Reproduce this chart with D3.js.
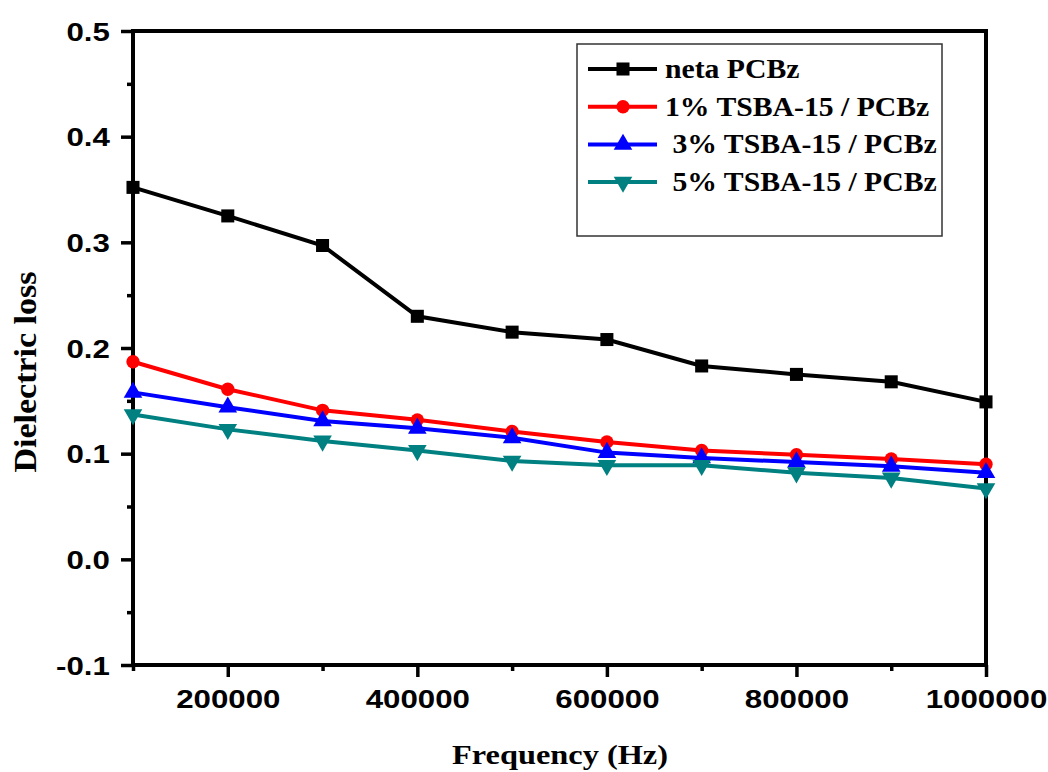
<!DOCTYPE html>
<html>
<head>
<meta charset="utf-8">
<script src="https://cdn.jsdelivr.net/npm/d3@7"></script>
<style>
  html, body { margin: 0; padding: 0; background: #fff; }
  svg { display: block; }
  .tick-label { font-family: "Liberation Sans", Arial, sans-serif; font-weight: bold; }
  .serif { font-family: "Liberation Serif", "Times New Roman", serif; font-weight: bold; }
</style>
</head>
<body>
<svg id="chart" width="1048" height="772"></svg>
<script>
// frequency (Hz)
const frequencies = [100000, 200000, 300000, 400000, 500000, 600000, 700000, 800000, 900000, 1000000];

const netaPCBz = [0.352, 0.325, 0.297, 0.230, 0.215, 0.208, 0.183, 0.175, 0.168, 0.149];
const tsba1 = [0.187, 0.161, 0.141, 0.132, 0.121, 0.111, 0.103, 0.099, 0.095, 0.090];
const tsba3 = [0.158, 0.144, 0.131, 0.124, 0.115, 0.101, 0.096, 0.092, 0.088, 0.082];
const tsba5 = [0.137, 0.123, 0.112, 0.103, 0.093, 0.089, 0.089, 0.082, 0.077, 0.067];

const seriesNames = ['neta PCBz', '1% TSBA-15 / PCBz', ' 3% TSBA-15 / PCBz', ' 5% TSBA-15 / PCBz'];
const seriesValues = [netaPCBz, tsba1, tsba3, tsba5];

const xMajorTicks = [200000, 400000, 600000, 800000, 1000000];
const xMinorTicks = [100000, 300000, 500000, 700000, 900000];
const yMajorTicks = [-0.1, 0.0, 0.1, 0.2, 0.3, 0.4, 0.5];
const yMinorTicks = [-0.05, 0.05, 0.15, 0.25, 0.35, 0.45];

const colors = ['#000000', '#ff0000', '#0000ff', '#008080'];
const shapes = [d3.symbolSquare, d3.symbolCircle, d3.symbolTriangle, d3.symbolTriangle];
const shapeSizes = [170, 140, 150, 150];
const shapeRotate = [0, 0, 0, 180];

const svg = d3.select('#chart');
const plotLeft = 133, plotTop = 31, plotRight = 986, plotBottom = 665;

const x = d3.scaleLinear().domain([100000, 1000000]).range([plotLeft, plotRight]);
const y = d3.scaleLinear().domain([-0.1, 0.5]).range([plotBottom, plotTop]);

// axes
const xMajor = svg.append('g')
  .attr('transform', `translate(0,${plotBottom})`)
  .call(d3.axisBottom(x).tickValues(xMajorTicks).tickSize(12).tickFormat(d3.format('d')));
svg.append('g')
  .attr('transform', `translate(0,${plotBottom})`)
  .call(d3.axisBottom(x).tickValues(xMinorTicks).tickSize(6).tickFormat(''));
const yMajor = svg.append('g')
  .attr('transform', `translate(${plotLeft},0)`)
  .call(d3.axisLeft(y).tickValues(yMajorTicks).tickSize(12).tickFormat(d => d.toFixed(1)));
svg.append('g')
  .attr('transform', `translate(${plotLeft},0)`)
  .call(d3.axisLeft(y).tickValues(yMinorTicks).tickSize(6).tickFormat(''));

svg.selectAll('.domain').remove();
svg.selectAll('.tick line').attr('stroke', '#000').attr('stroke-width', 3.5);

xMajor.selectAll('.tick text')
  .attr('class', 'tick-label')
  .attr('font-size', 25)
  .attr('fill', '#000')
  .attr('y', 43).attr('dy', 0)
  .attr('transform', 'scale(1.25,1)');

yMajor.selectAll('.tick text')
  .attr('class', 'tick-label')
  .attr('font-size', 25)
  .attr('fill', '#000')
  .attr('x', -18.5).attr('dy', '0.36em')
  .attr('transform', 'scale(1.25,1)');

// frame
svg.append('rect')
  .attr('x', plotLeft).attr('y', plotTop)
  .attr('width', plotRight - plotLeft).attr('height', plotBottom - plotTop)
  .attr('fill', 'none').attr('stroke', '#000').attr('stroke-width', 4);

// series
const line = d3.line().x((d, i) => x(frequencies[i])).y(d => y(d));

seriesValues.forEach((vals, k) => {
  const g = svg.append('g');
  g.append('path')
    .datum(vals)
    .attr('d', line)
    .attr('fill', 'none')
    .attr('stroke', colors[k])
    .attr('stroke-width', 4);
  g.selectAll('path.pt')
    .data(vals)
    .join('path')
    .attr('class', 'pt')
    .attr('d', d3.symbol().type(shapes[k]).size(shapeSizes[k]))
    .attr('transform', (d, i) => `translate(${x(frequencies[i])},${y(d)}) rotate(${shapeRotate[k]})`)
    .attr('fill', colors[k]);
});

// legend
const legend = svg.append('g');
legend.append('rect')
  .attr('x', 577).attr('y', 44).attr('width', 365).attr('height', 192)
  .attr('fill', '#fff').attr('stroke', '#333').attr('stroke-width', 1.5);

seriesNames.forEach((name, k) => {
  const ly = 69 + k * 37.7;
  legend.append('line')
    .attr('x1', 588).attr('x2', 657).attr('y1', ly).attr('y2', ly)
    .attr('stroke', colors[k]).attr('stroke-width', 4);
  legend.append('path')
    .attr('d', d3.symbol().type(shapes[k]).size(shapeSizes[k]))
    .attr('transform', `translate(623,${ly}) rotate(${shapeRotate[k]})`)
    .attr('fill', colors[k]);
  legend.append('text')
    .attr('class', 'serif')
    .attr('transform', `translate(665,${ly + 9}) scale(1.1,1)`)
    .attr('font-size', 27)
    .style('white-space', 'pre')
    .text(name);
});

// axis titles
svg.append('text')
  .attr('class', 'serif')
  .attr('x', 560).attr('y', 764)
  .attr('text-anchor', 'middle')
  .attr('font-size', 27)
  .attr('textLength', 216).attr('lengthAdjust', 'spacingAndGlyphs')
  .text('Frequency (Hz)');

svg.append('text')
  .attr('class', 'serif')
  .attr('transform', 'translate(36,372) rotate(-90)')
  .attr('text-anchor', 'middle')
  .attr('font-size', 31)
  .attr('textLength', 201).attr('lengthAdjust', 'spacingAndGlyphs')
  .text('Dielectric loss');
</script>
</body>
</html>
